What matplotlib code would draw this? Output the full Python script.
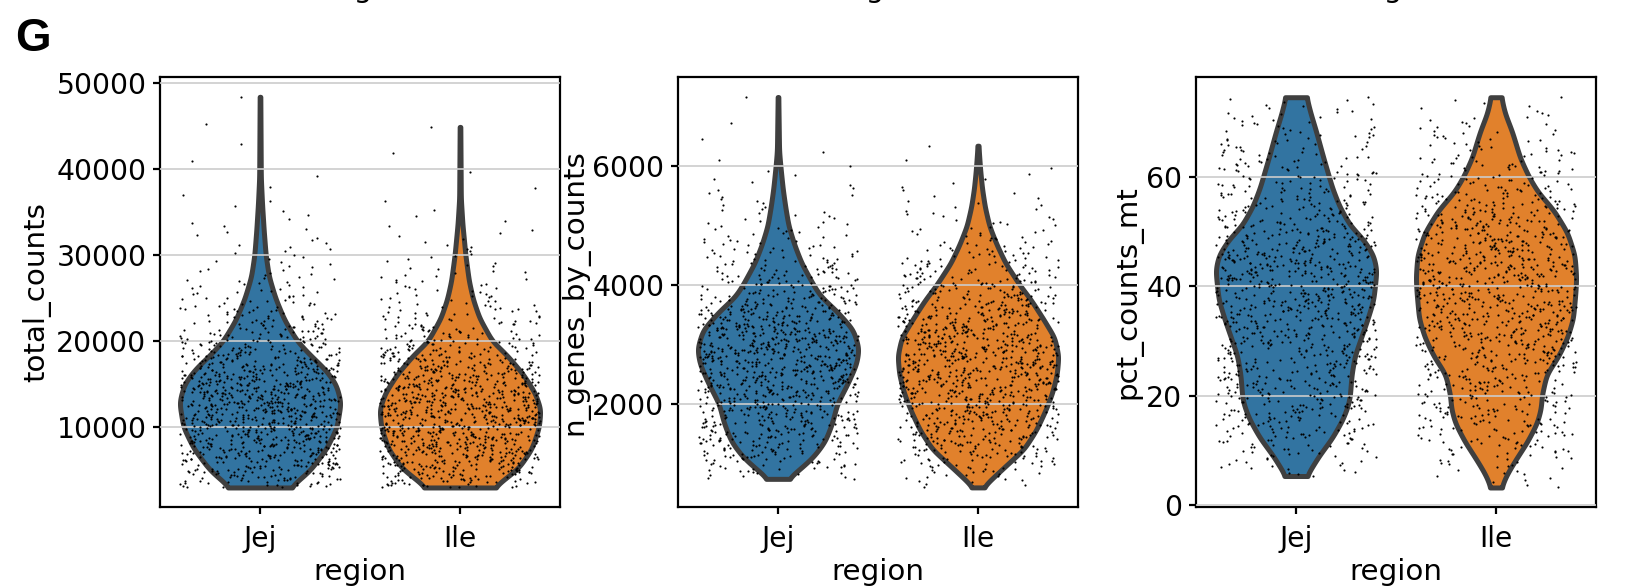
import numpy as np
import matplotlib.pyplot as plt

# ===============================
# DATA
# violin profiles per region: metric value -> relative violin width
# ===============================
groups = ["Jej", "Ile"]
colors = ["#3274a1", "#e1812c"]
metrics = ["total_counts", "n_genes_by_counts", "pct_counts_mt"]

total_counts_jej_y = [3000, 5000, 7500, 10000, 12900, 15000, 16700, 18400, 20000,
                      22500, 25000, 27500, 30000, 33000, 36000, 39000, 48400]
total_counts_jej_w = [0.37, 0.62, 0.82, 0.95, 1.0, 0.94, 0.81, 0.62, 0.46,
                      0.30, 0.19, 0.11, 0.07, 0.045, 0.025, 0.01, 0.004]
total_counts_ile_y = [3000, 5300, 7500, 10000, 12100, 14000, 16200, 18400, 20000,
                      22700, 24900, 27000, 30000, 33600, 36600, 44900]
total_counts_ile_w = [0.42, 0.73, 0.89, 0.98, 1.0, 0.93, 0.78, 0.58, 0.40,
                      0.24, 0.16, 0.11, 0.067, 0.03, 0.01, 0.004]

n_genes_jej_y = [740, 930, 1115, 1370, 1680, 2000, 2370, 2680, 2935, 3250, 3560,
                 3810, 4000, 4375, 4690, 5000, 5320, 5630, 6000, 6260, 7170]
n_genes_jej_w = [0.12, 0.29, 0.44, 0.58, 0.67, 0.73, 0.87, 0.97, 1.0, 0.93, 0.73,
                 0.53, 0.44, 0.29, 0.20, 0.13, 0.09, 0.058, 0.03, 0.013, 0.004]
n_genes_ile_y = [596, 740, 930, 1240, 1555, 1870, 2180, 2500, 2810, 3120, 3435,
                 3750, 4000, 4375, 4690, 5000, 5320, 5630, 5940, 6260, 6350]
n_genes_ile_w = [0.06, 0.17, 0.32, 0.57, 0.72, 0.83, 0.92, 0.98, 1.0, 0.95, 0.81,
                 0.66, 0.52, 0.34, 0.23, 0.14, 0.085, 0.05, 0.027, 0.01, 0.006]

pct_mt_jej_y = [5.3, 8.9, 12.3, 15.7, 18.4, 20, 23.9, 27.3, 30.7, 34.1, 37.5, 40,
                43, 45.7, 48.5, 51.2, 54.6, 58, 60, 63.5, 68.3, 71.7, 74.6]
pct_mt_jej_w = [0.13, 0.28, 0.45, 0.58, 0.65, 0.67, 0.69, 0.73, 0.81, 0.89, 0.96, 0.98,
                1.0, 0.96, 0.84, 0.67, 0.54, 0.45, 0.41, 0.34, 0.25, 0.18, 0.13]
pct_mt_ile_y = [3.2, 5.5, 8.2, 11.6, 15, 17.7, 20, 23.9, 27.3, 30.7, 34.1, 38.9,
                41.6, 45.7, 49.8, 53.9, 57.3, 60, 63.5, 68.3, 71.7, 74.6]
pct_mt_ile_w = [0.065, 0.13, 0.24, 0.39, 0.51, 0.56, 0.57, 0.63, 0.78, 0.89, 0.96, 0.99,
                1.0, 0.98, 0.89, 0.72, 0.52, 0.41, 0.30, 0.20, 0.11, 0.065]

profiles = {
    "total_counts": [(total_counts_jej_y, total_counts_jej_w), (total_counts_ile_y, total_counts_ile_w)],
    "n_genes_by_counts": [(n_genes_jej_y, n_genes_jej_w), (n_genes_ile_y, n_genes_ile_w)],
    "pct_counts_mt": [(pct_mt_jej_y, pct_mt_jej_w), (pct_mt_ile_y, pct_mt_ile_w)],
}

yticks = {
    "total_counts": [10000, 20000, 30000, 40000, 50000],
    "n_genes_by_counts": [2000, 4000, 6000],
    "pct_counts_mt": [0, 20, 40, 60],
}
ylims = {
    "total_counts": (730, 50700),
    "n_genes_by_counts": (266, 7507),
    "pct_counts_mt": (-0.37, 78.3),
}
ylabel_x = {"total_counts": -0.308, "n_genes_by_counts": -0.259, "pct_counts_mt": -0.168}

n_cells = 1000
jitter = 0.4
violin_width = 0.4
fs_tick = 10.2
fs_label = 10.6


def smooth_profile(y, w, n=400):
    grid = np.linspace(y[0], y[-1], n)
    prof = np.interp(grid, y, w)
    kern = np.exp(-0.5 * (np.arange(-12, 13) / 5.0) ** 2)
    kern /= kern.sum()
    prof = np.convolve(np.pad(prof, 12, mode="edge"), kern, mode="valid")
    return grid, prof / prof.max()


def cell_values(grid, prof, n):
    # quantiles of the violin density
    cdf = np.concatenate([[0], np.cumsum((prof[1:] + prof[:-1]) / 2 * np.diff(grid))])
    cdf /= cdf[-1]
    return np.interp(np.linspace(0, 1, n), cdf, grid)


# ===============================
# PLOT
# ===============================
rng = np.random.default_rng(0)
fig = plt.figure(figsize=(8.16, 2.94), dpi=200)
lefts = [160 / 1632, 678 / 1632, 1196 / 1632]

for k, metric in enumerate(metrics):
    ax = fig.add_axes([lefts[k], 81 / 588, 400 / 1632, 430 / 588])
    for i, (y, w) in enumerate(profiles[metric]):
        grid, prof = smooth_profile(y, w)
        ax.fill_betweenx(grid, i - violin_width * prof, i + violin_width * prof,
                         facecolor=colors[i], edgecolor="#3f3f3f", linewidth=1.8,
                         joinstyle="round", zorder=1)
        vals = cell_values(grid, prof, n_cells)
        xs = i + rng.uniform(-jitter, jitter, n_cells)
        ax.scatter(xs, vals, s=0.6, c="black", linewidths=0, zorder=3)

    ax.set_xlim(-0.5, 1.5)
    ax.set_ylim(*ylims[metric])
    ax.set_xticks([0, 1], groups)
    ax.set_yticks(yticks[metric])
    ax.yaxis.grid(True, color="#cccccc", linewidth=0.6)
    ax.set_axisbelow(False)
    ax.tick_params(length=2.4, width=0.8, labelsize=fs_tick)
    ax.tick_params(axis="x", pad=4)
    ax.tick_params(axis="y", pad=2.5)

    ax.set_xlabel("region", fontsize=fs_label)
    ax.xaxis.set_label_coords(0.5, -0.118)
    ax.set_ylabel(metric, fontsize=fs_label)
    ax.yaxis.label.set_va("center")
    ax.yaxis.set_label_coords(ylabel_x[metric], 0.5)

# labels of the row above, cut by the top edge
for xc in [371, 883, 1401]:
    fig.text(xc / 1632, 1 + 3 / 588, "region", ha="center", va="baseline", fontsize=fs_label)

fig.text(15 / 1632, 1 - 51 / 588, "G", fontsize=16.5, fontweight="bold",
         family="Liberation Sans", va="baseline", ha="left")

fig.savefig("out.png", dpi=200)
